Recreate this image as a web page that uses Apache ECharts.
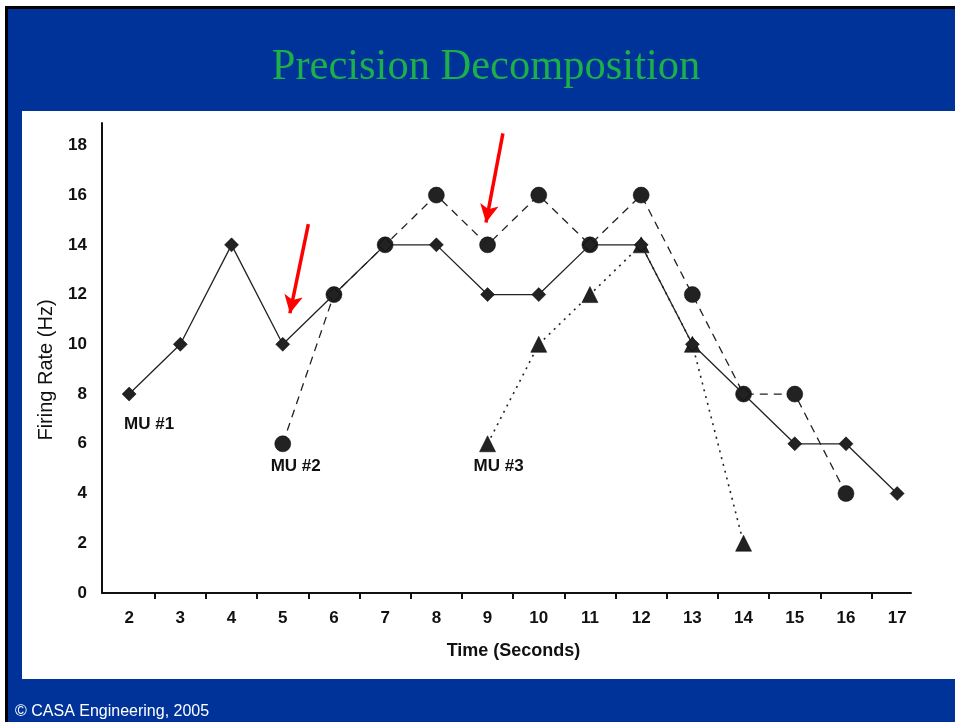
<!DOCTYPE html>
<html>
<head>
<meta charset="utf-8">
<script src="https://cdn.jsdelivr.net/npm/echarts@6/dist/echarts.min.js"></script>
<style>html,body{margin:0;padding:0;background:#fff;}#c{width:955px;height:722px;}</style>
</head>
<body>
<div id="c"></div>
<script>
// ---- data ----
var xTickLabels = [2, 3, 4, 5, 6, 7, 8, 9, 10, 11, 12, 13, 14, 15, 16, 17];
var yTickLabels = [0, 2, 4, 6, 8, 10, 12, 14, 16, 18];
var mu1Time = [2, 3, 4, 5, 6, 7, 8, 9, 10, 11, 12, 13, 14, 15, 16, 17];
var mu1Rate = [8, 10, 14, 10, 12, 14, 14, 12, 12, 14, 14, 10, 8, 6, 6, 4];
var mu2Time = [5, 6, 7, 8, 9, 10, 11, 12, 13, 14, 15, 16];
var mu2Rate = [6, 12, 14, 16, 14, 16, 14, 16, 12, 8, 8, 4];
var mu3Time = [9, 10, 11, 12, 13, 14];
var mu3Rate = [6, 10, 12, 14, 10, 2];
var seriesNames = ['MU #1', 'MU #2', 'MU #3'];
var arrowStart = [[5.50, 14.83], [9.30, 18.48]];
var arrowEnd = [[5.14, 11.25], [8.97, 14.9]];

function pairs(xs, ys) { return xs.map(function (x, i) { return [x, ys[i]]; }); }
function withLabel(pts, name, off) {
  return pts.map(function (p, i) {
    if (i !== 0) return p;
    return { value: p, label: { show: true, formatter: name, position: 'bottom', offset: off,
      color: '#111', fontFamily: 'Liberation Sans', fontWeight: 'bold', fontSize: 17 } };
  });
}
var ink = '#222';
var chart = echarts.init(document.getElementById('c'), null, { renderer: 'canvas' });
var tickVals = xTickLabels.slice(0, -1).map(function (v) { return v + 0.5; });
chart.setOption({
  backgroundColor: '#003399',
  animation: false,
  graphic: [
    { type: 'rect', shape: { x: 0, y: 0, width: 955, height: 6 }, style: { fill: '#ffffff' }, z: -10 },
    { type: 'rect', shape: { x: 0, y: 0, width: 5, height: 722 }, style: { fill: '#ffffff' }, z: -10 },
    { type: 'rect', shape: { x: 5, y: 6, width: 950, height: 3 }, style: { fill: '#000000' }, z: -10 },
    { type: 'rect', shape: { x: 5, y: 6, width: 3, height: 716 }, style: { fill: '#000000' }, z: -10 },
    { type: 'rect', shape: { x: 22, y: 111, width: 933, height: 568 }, style: { fill: '#ffffff' }, z: -10 },
    { type: 'text', x: 486, y: 90, scaleY: 1.05,
      style: { text: 'Precision Decomposition', fill: '#1cb04a', align: 'center', verticalAlign: 'bottom',
        font: '42.5px "Liberation Serif"' } },
    { type: 'text', left: 15, top: 704, style: { text: '\u00a9 CASA Engineering, 2005', fill: '#ffffff',
        font: '16px "Liberation Sans"' } }
  ],
  grid: { left: 102, right: 44, top: 123, bottom: 129, containLabel: false },
  xAxis: {
    type: 'value', min: 1.47, max: 17.27,
    name: 'Time (Seconds)', nameLocation: 'middle', nameGap: 49,
    nameTextStyle: { color: '#111', fontFamily: 'Liberation Sans', fontWeight: 'bold', fontSize: 18, padding: [0, 0, 0, 14] },
    axisLine: { show: true, lineStyle: { color: '#111', width: 2 } },
    axisTick: { show: true, inside: false, length: 6, customValues: tickVals, lineStyle: { color: '#111', width: 2 } },
    axisLabel: { customValues: xTickLabels, margin: 17, color: '#111', fontFamily: 'Liberation Sans', fontWeight: 'bold', fontSize: 17 },
    splitLine: { show: false }
  },
  yAxis: {
    type: 'value', min: 0, max: 18.9,
    name: 'Firing Rate (Hz)', nameLocation: 'middle', nameGap: 46, nameRotate: 90,
    nameTextStyle: { color: '#111', fontFamily: 'Liberation Sans', fontSize: 20, padding: [0, 24, 0, 0] },
    axisLine: { show: true, lineStyle: { color: '#111', width: 2 } },
    axisTick: { show: false },
    axisLabel: { customValues: yTickLabels, margin: 15, color: '#111', fontFamily: 'Liberation Sans', fontWeight: 'bold', fontSize: 17 },
    splitLine: { show: false }
  },
  series: [
    {
      name: seriesNames[0], type: 'line', data: withLabel(pairs(mu1Time, mu1Rate), seriesNames[0], [20, 10]),
      symbol: 'diamond', symbolSize: 14, showAllSymbol: true,
      lineStyle: { color: ink, width: 1.3, type: 'solid' },
      itemStyle: { color: ink, borderColor: '#000', borderWidth: 0.5 }, z: 3,
      markLine: {
        silent: true, symbol: ['none', 'arrow'], symbolSize: [14, 18],
        lineStyle: { color: '#ff0000', width: 3.5, type: 'solid' },
        label: { show: false },
        data: arrowStart.map(function (s, i) { return [{ coord: s }, { coord: arrowEnd[i] }]; })
      }
    },
    {
      name: seriesNames[1], type: 'line', data: withLabel(pairs(mu2Time, mu2Rate), seriesNames[1], [13, 1]),
      symbol: 'circle', symbolSize: 16, showAllSymbol: true,
      lineStyle: { color: ink, width: 1.3, type: [8, 6] },
      itemStyle: { color: ink, borderColor: '#000', borderWidth: 0.5 }, z: 2
    },
    {
      name: seriesNames[2], type: 'line', data: withLabel(pairs(mu3Time, mu3Rate), seriesNames[2], [11, 1]),
      symbol: 'triangle', symbolSize: 16, showAllSymbol: true,
      lineStyle: { color: ink, width: 1.6, type: [2, 5] },
      itemStyle: { color: ink, borderColor: '#000', borderWidth: 0.5 }, z: 1
    }
  ]
});
</script>
</body>
</html>
